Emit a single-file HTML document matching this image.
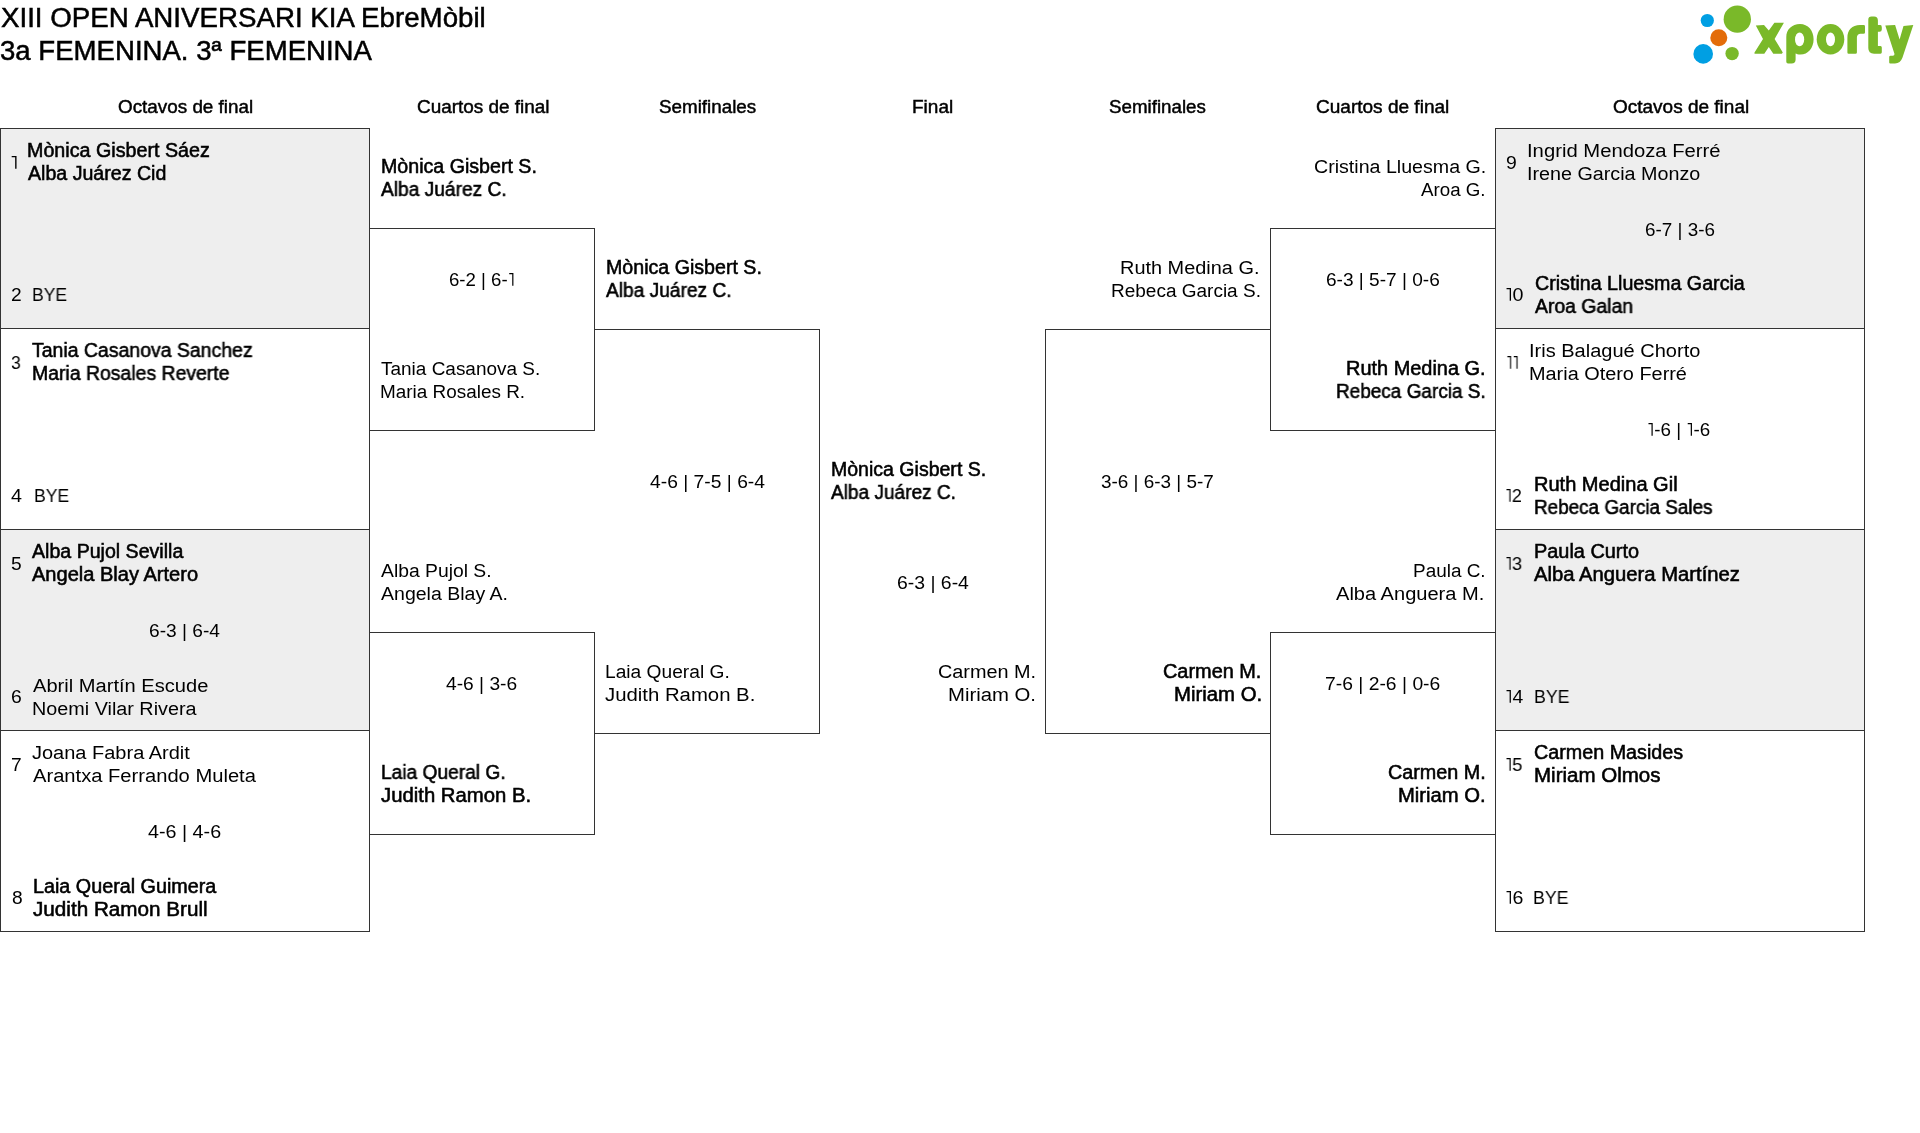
<!DOCTYPE html>
<html><head><meta charset="utf-8">
<style>
html,body{margin:0;padding:0;background:#fff;width:1920px;height:1133px;overflow:hidden;position:relative}
.box{position:absolute;box-sizing:border-box;border:1px solid #333;}
.g{background:#eeeeee}
.t{position:absolute;will-change:transform;white-space:nowrap;font-family:"Liberation Sans",sans-serif;font-size:18px;line-height:20px;color:#000;transform-origin:0 0}
.t.b{font-weight:bold}
.t.big{font-size:27px;line-height:30px}
#logo{position:absolute;left:1680px;top:0;width:240px;height:75px}
</style></head><body>
<!-- left octavos -->
<div class="box g" style="left:0;top:128px;width:370px;height:201px"></div>
<div class="box" style="left:0;top:328px;width:370px;height:202px"></div>
<div class="box g" style="left:0;top:529px;width:370px;height:202px"></div>
<div class="box" style="left:0;top:730px;width:370px;height:202px"></div>
<!-- left quarters -->
<div class="box" style="left:369px;top:228px;width:226px;height:203px"></div>
<div class="box" style="left:369px;top:632px;width:226px;height:203px"></div>
<!-- left semi -->
<div class="box" style="left:594px;top:329px;width:226px;height:405px;border-left:none"></div>
<!-- right semi -->
<div class="box" style="left:1045px;top:329px;width:226px;height:405px;border-right:none"></div>
<!-- right quarters -->
<div class="box" style="left:1270px;top:228px;width:226px;height:203px"></div>
<div class="box" style="left:1270px;top:632px;width:226px;height:203px"></div>
<!-- right octavos -->
<div class="box g" style="left:1495px;top:128px;width:370px;height:201px"></div>
<div class="box" style="left:1495px;top:328px;width:370px;height:202px"></div>
<div class="box g" style="left:1495px;top:529px;width:370px;height:202px"></div>
<div class="box" style="left:1495px;top:730px;width:370px;height:202px"></div>
<svg id="logo" viewBox="1680 0 240 75" width="240" height="75">
<circle cx="1707.3" cy="20.5" r="6.6" fill="#009fe3"/>
<circle cx="1737.3" cy="19.2" r="13.65" fill="#7ab929"/>
<circle cx="1718.8" cy="37.7" r="8.5" fill="#e36c0a"/>
<circle cx="1703.2" cy="53.9" r="9.8" fill="#009fe3"/>
<circle cx="1732.1" cy="53.6" r="6.7" fill="#7ab929"/>
<g fill="#7ab929">
<path d="M1755.8,25.4 L1764.0,25.1 L1768.8,30.4 L1774.4,22.7 L1783.9,22.7 L1774.6,38.9 L1782.8,52.4 L1781.8,53.7 L1773.3,53.7 L1768.8,47.1 L1764.3,53.7 L1754.5,53.7 L1754.5,52.4 L1763.0,39.1 Z"/>
<path d="M1786.3,61.8 L1786.3,37 C1786.3,29.5 1792,24 1800,24 C1808,24 1813.6,30.5 1813.6,39.2 C1813.6,48 1808,54.5 1800.5,54.5 C1798,54.5 1796.5,54 1795.6,53.5 L1795.6,59.5 Q1795.6,63.5 1791.6,63.5 L1788,63.5 Q1786.3,63.5 1786.3,61.8 Z"/>
<ellipse cx="1830.5" cy="39.25" rx="13.8" ry="15.25"/>
<path d="M1847.4,52.5 L1847.4,38 C1847.4,30 1852,25.1 1860,25.1 L1863.8,25.1 Q1865,25.1 1865,26.5 L1865,32.5 Q1865,33.8 1863.5,33.8 L1860.5,33.8 C1858.5,33.8 1856.9,35.5 1856.9,37.5 L1856.9,52.5 Q1856.9,53.7 1855.5,53.7 L1848.6,53.7 Q1847.4,53.7 1847.4,52.5 Z"/>
<path d="M1868.3,19.5 Q1868.3,16.4 1871.5,16.4 L1874,16.4 Q1877.9,16.4 1877.9,20.5 L1877.9,25.1 L1880.3,25.1 Q1881.8,25.1 1881.8,27.5 L1881.8,29.5 Q1881.8,31.7 1879.5,31.7 L1877.9,31.7 L1877.9,46 L1880.5,46 Q1881.8,46 1881.8,47.5 L1881.8,52.3 Q1881.8,53.7 1880.5,53.7 L1874,53.7 Q1868.3,53.7 1868.3,48 Z"/>
<path d="M1885.3,25.4 L1895.1,25.1 L1899.6,39.6 L1903.5,25.9 L1913.3,25.1 L1902.5,57.6 Q1900.4,63.5 1895,63.5 L1890.3,63.5 Q1889.2,63.5 1889.2,62.4 L1889.2,57.1 Q1889.2,55.8 1890.6,55.8 L1892.9,55.8 Q1894.5,55.5 1894.5,53.9 Z"/>
</g>
<g fill="#fff">
<ellipse cx="1799.6" cy="39.4" rx="4.6" ry="6.9"/>
<ellipse cx="1830.5" cy="39.4" rx="4.5" ry="6.9"/>
</g>
</svg>
<div class="t" style="left:1.26px;top:3.10px;font-size:27px;line-height:30px;font-weight:normal;transform:scaleX(1.0256);-webkit-text-stroke:0.5px #000">XIII OPEN ANIVERSARI KIA EbreMòbil</div>
<div class="t" style="left:0.23px;top:36.20px;font-size:27px;line-height:30px;font-weight:normal;transform:scaleX(1.0216);-webkit-text-stroke:0.5px #000">3a FEMENINA. 3ª FEMENINA</div>
<div class="t" style="left:117.94px;top:97.00px;font-size:18px;line-height:20px;font-weight:normal;transform:scaleX(1.0473);-webkit-text-stroke:0.45px #000">Octavos de final</div>
<div class="t" style="left:416.64px;top:97.00px;font-size:18px;line-height:20px;font-weight:normal;transform:scaleX(1.0516);-webkit-text-stroke:0.45px #000">Cuartos de final</div>
<div class="t" style="left:659.24px;top:97.00px;font-size:18px;line-height:20px;font-weight:normal;transform:scaleX(1.0450);-webkit-text-stroke:0.45px #000">Semifinales</div>
<div class="t" style="left:912.28px;top:97.00px;font-size:18px;line-height:20px;font-weight:normal;transform:scaleX(1.0570);-webkit-text-stroke:0.45px #000">Final</div>
<div class="t" style="left:1109.43px;top:97.00px;font-size:18px;line-height:20px;font-weight:normal;transform:scaleX(1.0407);-webkit-text-stroke:0.45px #000">Semifinales</div>
<div class="t" style="left:1316.44px;top:97.00px;font-size:18px;line-height:20px;font-weight:normal;transform:scaleX(1.0572);-webkit-text-stroke:0.45px #000">Cuartos de final</div>
<div class="t" style="left:1612.54px;top:97.00px;font-size:18px;line-height:20px;font-weight:normal;transform:scaleX(1.0551);-webkit-text-stroke:0.45px #000">Octavos de final</div>
<div class="t" style="left:9.98px;top:152.50px;font-size:19.2px;line-height:20px;font-weight:normal;transform:scaleX(1.1200)">˥</div>
<div class="t" style="left:27.07px;top:139.00px;font-size:19.5px;line-height:22px;font-weight:normal;transform:scaleX(1.0100);-webkit-text-stroke:0.55px #000">Mònica Gisbert Sáez</div>
<div class="t" style="left:27.58px;top:162.10px;font-size:19.5px;line-height:22px;font-weight:normal;transform:scaleX(1.0047);-webkit-text-stroke:0.55px #000">Alba Juárez Cid</div>
<div class="t" style="left:11.10px;top:285.10px;font-size:19.2px;line-height:20px;font-weight:normal;transform:scaleX(0.9600)">2</div>
<div class="t" style="left:31.63px;top:285.10px;font-size:18px;line-height:20px;font-weight:normal;transform:scaleX(0.9740)">BYE</div>
<div class="t" style="left:11.10px;top:352.50px;font-size:19.2px;line-height:20px;font-weight:normal;transform:scaleX(0.9200)">3</div>
<div class="t" style="left:31.77px;top:339.00px;font-size:19.5px;line-height:22px;font-weight:normal;transform:scaleX(0.9975);-webkit-text-stroke:0.55px #000">Tania Casanova Sanchez</div>
<div class="t" style="left:31.88px;top:362.30px;font-size:19.5px;line-height:22px;font-weight:normal;transform:scaleX(0.9958);-webkit-text-stroke:0.55px #000">Maria Rosales Reverte</div>
<div class="t" style="left:11.40px;top:485.90px;font-size:19.2px;line-height:20px;font-weight:normal;transform:scaleX(1.0273)">4</div>
<div class="t" style="left:33.62px;top:485.90px;font-size:18px;line-height:20px;font-weight:normal;transform:scaleX(0.9768)">BYE</div>
<div class="t" style="left:11.10px;top:553.50px;font-size:19.2px;line-height:20px;font-weight:normal;transform:scaleX(0.9600)">5</div>
<div class="t" style="left:31.78px;top:539.90px;font-size:19.5px;line-height:22px;font-weight:normal;transform:scaleX(1.0041);-webkit-text-stroke:0.55px #000">Alba Pujol Sevilla</div>
<div class="t" style="left:31.78px;top:563.30px;font-size:19.5px;line-height:22px;font-weight:normal;transform:scaleX(1.0282);-webkit-text-stroke:0.55px #000">Angela Blay Artero</div>
<div class="t" style="left:149.10px;top:620.90px;font-size:18px;line-height:20px;font-weight:normal;transform:scaleX(1.0645)">6-3 | 6-4</div>
<div class="t" style="left:11.40px;top:687.00px;font-size:19.2px;line-height:20px;font-weight:normal;transform:scaleX(1.0100)">6</div>
<div class="t" style="left:32.60px;top:675.70px;font-size:18px;line-height:20px;font-weight:normal;transform:scaleX(1.1162)">Abril Martín Escude</div>
<div class="t" style="left:31.90px;top:698.80px;font-size:18px;line-height:20px;font-weight:normal;transform:scaleX(1.0988)">Noemi Vilar Rivera</div>
<div class="t" style="left:11.10px;top:754.50px;font-size:19.2px;line-height:20px;font-weight:normal;transform:scaleX(0.9600)">7</div>
<div class="t" style="left:31.80px;top:743.00px;font-size:18px;line-height:20px;font-weight:normal;transform:scaleX(1.1106)">Joana Fabra Ardit</div>
<div class="t" style="left:32.60px;top:766.20px;font-size:18px;line-height:20px;font-weight:normal;transform:scaleX(1.1195)">Arantxa Ferrando Muleta</div>
<div class="t" style="left:147.80px;top:821.90px;font-size:18px;line-height:20px;font-weight:normal;transform:scaleX(1.0960)">4-6 | 4-6</div>
<div class="t" style="left:11.90px;top:888.00px;font-size:19.2px;line-height:20px;font-weight:normal;transform:scaleX(0.9600)">8</div>
<div class="t" style="left:32.67px;top:874.70px;font-size:19.5px;line-height:22px;font-weight:normal;transform:scaleX(1.0127);-webkit-text-stroke:0.55px #000">Laia Queral Guimera</div>
<div class="t" style="left:32.89px;top:897.80px;font-size:19.5px;line-height:22px;font-weight:normal;transform:scaleX(1.0597);-webkit-text-stroke:0.55px #000">Judith Ramon Brull</div>
<div class="t" style="left:380.57px;top:155.00px;font-size:19.5px;line-height:22px;font-weight:normal;transform:scaleX(1.0059);-webkit-text-stroke:0.55px #000">Mònica Gisbert S.</div>
<div class="t" style="left:380.57px;top:178.00px;font-size:19.5px;line-height:22px;font-weight:normal;transform:scaleX(0.9817);-webkit-text-stroke:0.55px #000">Alba Juárez C.</div>
<div class="t" style="left:448.80px;top:269.70px;font-size:18px;line-height:20px;font-weight:normal;transform:scaleX(1.0351)">6-2 | 6-˥</div>
<div class="t" style="left:380.60px;top:359.00px;font-size:18px;line-height:20px;font-weight:normal;transform:scaleX(1.0540)">Tania Casanova S.</div>
<div class="t" style="left:380.25px;top:382.00px;font-size:18px;line-height:20px;font-weight:normal;transform:scaleX(1.0512)">Maria Rosales R.</div>
<div class="t" style="left:380.80px;top:561.00px;font-size:18px;line-height:20px;font-weight:normal;transform:scaleX(1.0729)">Alba Pujol S.</div>
<div class="t" style="left:380.80px;top:584.00px;font-size:18px;line-height:20px;font-weight:normal;transform:scaleX(1.0848)">Angela Blay A.</div>
<div class="t" style="left:446.20px;top:673.70px;font-size:18px;line-height:20px;font-weight:normal;transform:scaleX(1.0660)">4-6 | 3-6</div>
<div class="t" style="left:380.79px;top:761.00px;font-size:19.5px;line-height:22px;font-weight:normal;transform:scaleX(0.9820);-webkit-text-stroke:0.55px #000">Laia Queral G.</div>
<div class="t" style="left:381.09px;top:784.00px;font-size:19.5px;line-height:22px;font-weight:normal;transform:scaleX(1.0413);-webkit-text-stroke:0.55px #000">Judith Ramon B.</div>
<div class="t" style="left:605.57px;top:256.00px;font-size:19.5px;line-height:22px;font-weight:normal;transform:scaleX(1.0059);-webkit-text-stroke:0.55px #000">Mònica Gisbert S.</div>
<div class="t" style="left:606.07px;top:279.00px;font-size:19.5px;line-height:22px;font-weight:normal;transform:scaleX(0.9809);-webkit-text-stroke:0.55px #000">Alba Juárez C.</div>
<div class="t" style="left:649.60px;top:471.70px;font-size:18px;line-height:20px;font-weight:normal;transform:scaleX(1.0708)">4-6 | 7-5 | 6-4</div>
<div class="t" style="left:604.93px;top:662.00px;font-size:18px;line-height:20px;font-weight:normal;transform:scaleX(1.0655)">Laia Queral G.</div>
<div class="t" style="left:605.30px;top:685.00px;font-size:18px;line-height:20px;font-weight:normal;transform:scaleX(1.1297)">Judith Ramon B.</div>
<div class="t" style="left:830.97px;top:458.00px;font-size:19.5px;line-height:22px;font-weight:normal;transform:scaleX(1.0013);-webkit-text-stroke:0.55px #000">Mònica Gisbert S.</div>
<div class="t" style="left:831.27px;top:481.00px;font-size:19.5px;line-height:22px;font-weight:normal;transform:scaleX(0.9762);-webkit-text-stroke:0.55px #000">Alba Juárez C.</div>
<div class="t" style="left:896.60px;top:572.70px;font-size:18px;line-height:20px;font-weight:normal;transform:scaleX(1.0780)">6-3 | 6-4</div>
<div class="t" style="left:937.80px;top:662.00px;font-size:18px;line-height:20px;font-weight:normal;transform:scaleX(1.1021)">Carmen M.</div>
<div class="t" style="left:947.97px;top:685.00px;font-size:18px;line-height:20px;font-weight:normal;transform:scaleX(1.1277)">Miriam O.</div>
<div class="t" style="left:1120.39px;top:258.00px;font-size:18px;line-height:20px;font-weight:normal;transform:scaleX(1.1059)">Ruth Medina G.</div>
<div class="t" style="left:1110.84px;top:281.00px;font-size:18px;line-height:20px;font-weight:normal;transform:scaleX(1.0552)">Rebeca Garcia S.</div>
<div class="t" style="left:1101.30px;top:471.70px;font-size:18px;line-height:20px;font-weight:normal;transform:scaleX(1.0504)">3-6 | 6-3 | 5-7</div>
<div class="t" style="left:1163.28px;top:660.00px;font-size:19.5px;line-height:22px;font-weight:normal;transform:scaleX(1.0202);-webkit-text-stroke:0.55px #000">Carmen M.</div>
<div class="t" style="left:1173.54px;top:683.00px;font-size:19.5px;line-height:22px;font-weight:normal;transform:scaleX(1.0433);-webkit-text-stroke:0.55px #000">Miriam O.</div>
<div class="t" style="left:1313.80px;top:157.00px;font-size:18px;line-height:20px;font-weight:normal;transform:scaleX(1.0894)">Cristina Lluesma G.</div>
<div class="t" style="left:1421.40px;top:180.00px;font-size:18px;line-height:20px;font-weight:normal;transform:scaleX(1.0406)">Aroa G.</div>
<div class="t" style="left:1325.80px;top:269.70px;font-size:18px;line-height:20px;font-weight:normal;transform:scaleX(1.0597)">6-3 | 5-7 | 0-6</div>
<div class="t" style="left:1345.96px;top:357.00px;font-size:19.5px;line-height:22px;font-weight:normal;transform:scaleX(1.0223);-webkit-text-stroke:0.55px #000">Ruth Medina G.</div>
<div class="t" style="left:1336.40px;top:380.00px;font-size:19.5px;line-height:22px;font-weight:normal;transform:scaleX(0.9721);-webkit-text-stroke:0.55px #000">Rebeca Garcia S.</div>
<div class="t" style="left:1413.15px;top:561.00px;font-size:18px;line-height:20px;font-weight:normal;transform:scaleX(1.0517)">Paula C.</div>
<div class="t" style="left:1336.40px;top:584.00px;font-size:18px;line-height:20px;font-weight:normal;transform:scaleX(1.1144)">Alba Anguera M.</div>
<div class="t" style="left:1325.00px;top:673.70px;font-size:18px;line-height:20px;font-weight:normal;transform:scaleX(1.0736)">7-6 | 2-6 | 0-6</div>
<div class="t" style="left:1388.08px;top:761.00px;font-size:19.5px;line-height:22px;font-weight:normal;transform:scaleX(1.0140);-webkit-text-stroke:0.55px #000">Carmen M.</div>
<div class="t" style="left:1398.25px;top:784.00px;font-size:19.5px;line-height:22px;font-weight:normal;transform:scaleX(1.0372);-webkit-text-stroke:0.55px #000">Miriam O.</div>
<div class="t" style="left:1506.40px;top:152.50px;font-size:19.2px;line-height:20px;font-weight:normal;transform:scaleX(1.0100)">9</div>
<div class="t" style="left:1527.08px;top:141.00px;font-size:18px;line-height:20px;font-weight:normal;transform:scaleX(1.1247)">Ingrid Mendoza Ferré</div>
<div class="t" style="left:1527.10px;top:164.20px;font-size:18px;line-height:20px;font-weight:normal;transform:scaleX(1.0964)">Irene Garcia Monzo</div>
<div class="t" style="left:1645.10px;top:219.90px;font-size:18px;line-height:20px;font-weight:normal;transform:scaleX(1.0480)">6-7 | 3-6</div>
<div class="t" style="left:1505.37px;top:285.00px;font-size:19.2px;line-height:20px;font-weight:normal;transform:scaleX(1.0278)">˥0</div>
<div class="t" style="left:1535.18px;top:272.00px;font-size:19.5px;line-height:22px;font-weight:normal;transform:scaleX(1.0082);-webkit-text-stroke:0.55px #000">Cristina Lluesma Garcia</div>
<div class="t" style="left:1534.67px;top:295.00px;font-size:19.5px;line-height:22px;font-weight:normal;transform:scaleX(0.9944);-webkit-text-stroke:0.55px #000">Aroa Galan</div>
<div class="t" style="left:1505.52px;top:352.50px;font-size:19.2px;line-height:20px;font-weight:normal;transform:scaleX(0.8829)">˥˥</div>
<div class="t" style="left:1529.09px;top:341.00px;font-size:18px;line-height:20px;font-weight:normal;transform:scaleX(1.1119)">Iris Balagué Chorto</div>
<div class="t" style="left:1529.10px;top:364.20px;font-size:18px;line-height:20px;font-weight:normal;transform:scaleX(1.1041)">Maria Otero Ferré</div>
<div class="t" style="left:1647.36px;top:419.90px;font-size:18px;line-height:20px;font-weight:normal;transform:scaleX(1.0444)">˥-6 | ˥-6</div>
<div class="t" style="left:1505.46px;top:486.00px;font-size:19.2px;line-height:20px;font-weight:normal;transform:scaleX(0.9422)">˥2</div>
<div class="t" style="left:1533.96px;top:473.00px;font-size:19.5px;line-height:22px;font-weight:normal;transform:scaleX(1.0271);-webkit-text-stroke:0.55px #000">Ruth Medina Gil</div>
<div class="t" style="left:1534.00px;top:496.00px;font-size:19.5px;line-height:22px;font-weight:normal;transform:scaleX(0.9687);-webkit-text-stroke:0.55px #000">Rebeca Garcia Sales</div>
<div class="t" style="left:1505.15px;top:553.50px;font-size:19.2px;line-height:20px;font-weight:normal;transform:scaleX(0.9544)">˥3</div>
<div class="t" style="left:1533.66px;top:540.00px;font-size:19.5px;line-height:22px;font-weight:normal;transform:scaleX(1.0197);-webkit-text-stroke:0.55px #000">Paula Curto</div>
<div class="t" style="left:1533.89px;top:563.20px;font-size:19.5px;line-height:22px;font-weight:normal;transform:scaleX(1.0384);-webkit-text-stroke:0.55px #000">Alba Anguera Martínez</div>
<div class="t" style="left:1505.09px;top:687.00px;font-size:19.2px;line-height:20px;font-weight:normal;transform:scaleX(1.0089)">˥4</div>
<div class="t" style="left:1534.21px;top:687.00px;font-size:18px;line-height:20px;font-weight:normal;transform:scaleX(0.9854)">BYE</div>
<div class="t" style="left:1505.13px;top:754.50px;font-size:19.2px;line-height:20px;font-weight:normal;transform:scaleX(0.9728)">˥5</div>
<div class="t" style="left:1534.18px;top:741.00px;font-size:19.5px;line-height:22px;font-weight:normal;transform:scaleX(1.0116);-webkit-text-stroke:0.55px #000">Carmen Masides</div>
<div class="t" style="left:1533.64px;top:764.20px;font-size:19.5px;line-height:22px;font-weight:normal;transform:scaleX(1.0521);-webkit-text-stroke:0.55px #000">Miriam Olmos</div>
<div class="t" style="left:1505.08px;top:888.00px;font-size:19.2px;line-height:20px;font-weight:normal;transform:scaleX(1.0217)">˥6</div>
<div class="t" style="left:1533.41px;top:888.00px;font-size:18px;line-height:20px;font-weight:normal;transform:scaleX(0.9854)">BYE</div>
</body></html>
